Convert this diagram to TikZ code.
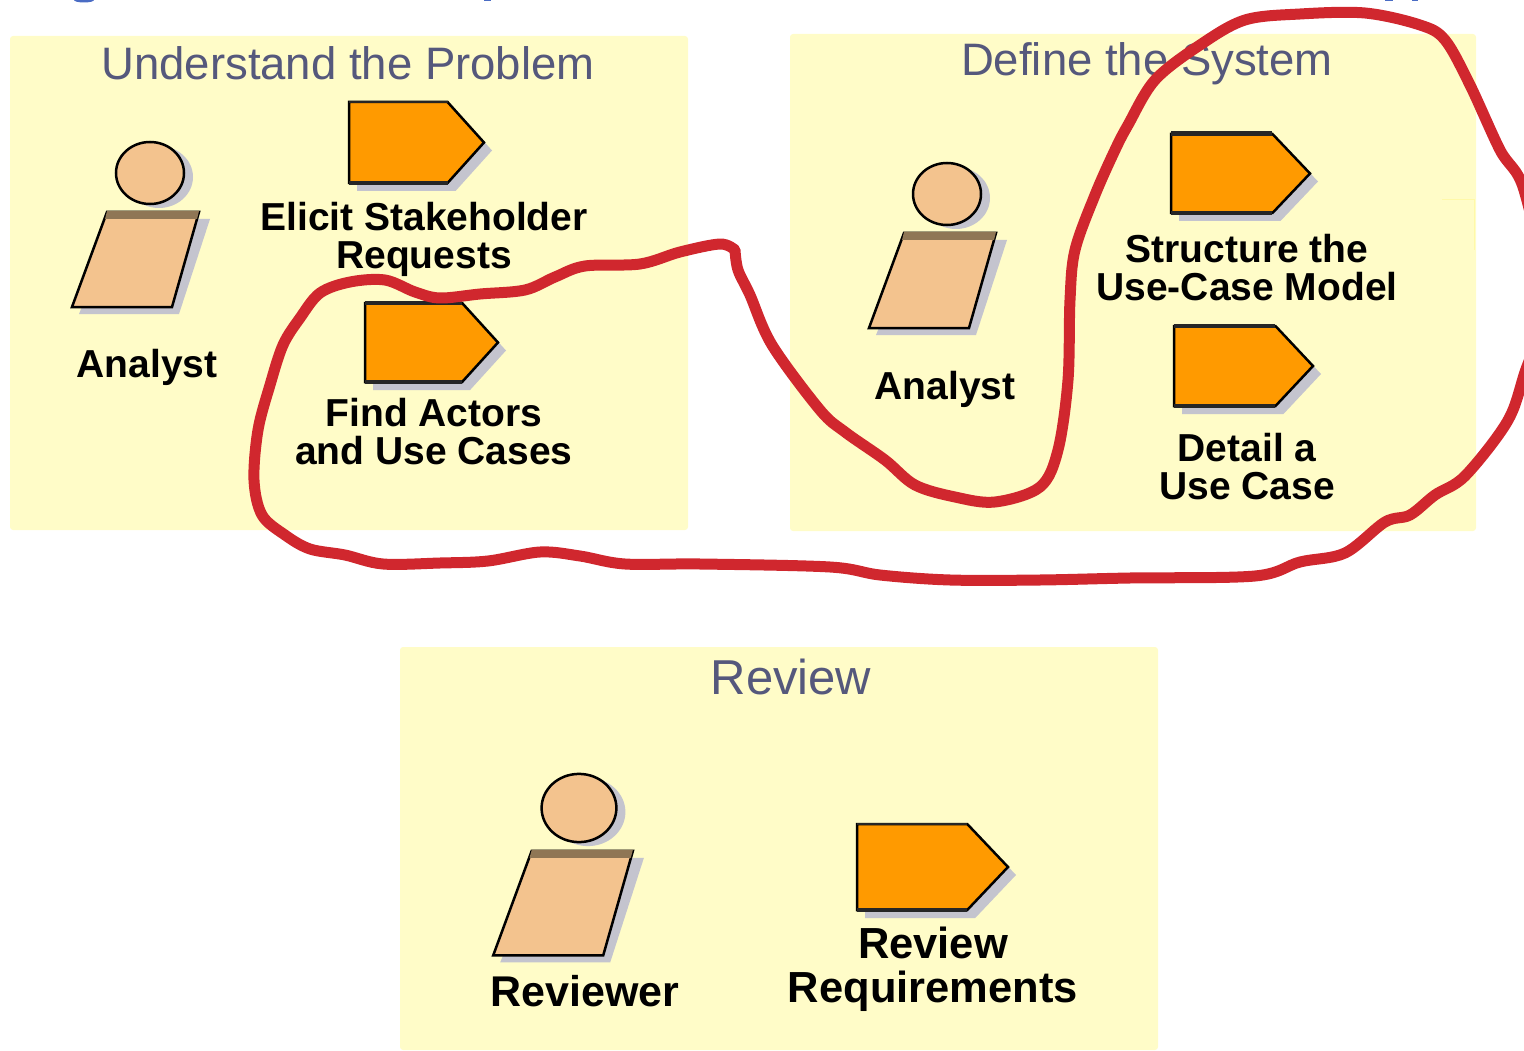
\documentclass[tikz,border=0pt]{standalone}
\usepackage{fontspec}
\setmainfont{Liberation Sans}
\definecolor{PANELcolor}{HTML}{FFFCC8}
\definecolor{EDGEcolor}{HTML}{FFF9A8}
\definecolor{TITLEcolor}{HTML}{55587C}
\definecolor{TASKcolor}{HTML}{FF9A00}
\definecolor{SKINcolor}{HTML}{F3C38E}
\definecolor{BANDcolor}{HTML}{8F7655}
\definecolor{SHADOWcolor}{HTML}{C4C4CE}
\definecolor{LOOPcolor}{HTML}{D0272E}
\definecolor{HEADcolor}{HTML}{4A6CC4}
\usetikzlibrary{math}

\begin{document}
\begin{tikzpicture}[x=1pt, y=-1pt]

    \tikzset{%
        panel/.style={fill=PANELcolor, rounded corners=3pt},
        titlelabel/.style={text=TITLEcolor, align=center, font=\fontsize{45.5}{46}\selectfont},
        rolelabel/.style={align=center, font=\fontsize{39}{38}\bfseries\selectfont},
        pics/taskshape/.style args={#1/#2/#3}{%
                code={%

                        \tikzmath{%
                            \taskw=#1;
                            \taskh=#2;
                            \shoulder=0.73*\taskw;
                            \shadow=8;
                        };

                        \fill [SHADOWcolor] (\shadow, \shadow) -- ++(\shoulder, 0) -- ++({\taskw-\shoulder}, {\taskh/2}) -- ++({\shoulder-\taskw}, {\taskh/2}) -- ++(-\shoulder, 0) -- cycle;
                        \fill [SHADOWcolor] (\shadow, \taskh-2) rectangle (\shoulder+\shadow, \taskh+\shadow);
                        \filldraw [fill=TASKcolor, draw=black, line width=2.5pt, line join=miter] (0, 0) -- (\shoulder, 0) -- (\taskw, \taskh/2) -- (\shoulder, \taskh) -- (0, \taskh) -- cycle;
                        \draw [black!85, line width=#3pt] (0, 0) -- (\shoulder, 0);
                        \draw [black!85, line width=3.5pt] (0, \taskh) -- (\shoulder, \taskh);
                    }
            },
        pics/workershape/.style={%
                code={%

                        \tikzmath{%
                            \sc=#1;
                            \shadow=7;
                            \headx=34*\sc;
                            \heady=31*\sc;
                            \bodytop=39*\sc;
                            \bodybot=134*\sc;
                        };

                        \fill [SHADOWcolor] (\shadow+2, 0+\shadow-3) ellipse ({\headx} and {\heady});
                        \fill [SHADOWcolor] ({-43*\sc+\shadow+4}, \bodytop+\shadow) -- ({49*\sc+\shadow+4}, \bodytop+\shadow) -- ({22*\sc+\shadow}, \bodybot+\shadow) -- ({-78*\sc+\shadow}, \bodybot+\shadow) -- cycle;
                        \filldraw [fill=SKINcolor, draw=black, line width=2.5pt] (0, 0) ellipse ({\headx} and {\heady});
                        \filldraw [fill=SKINcolor, draw=black, line width=2.5pt] ({-43*\sc}, \bodytop) -- ({49*\sc}, \bodytop) -- ({22*\sc}, \bodybot) -- ({-78*\sc}, \bodybot) -- cycle;
                        \fill [BANDcolor] ({-43*\sc}, \bodytop-1) -- ({49*\sc}, \bodytop-1) -- ({47*\sc}, \bodytop+7) -- ({-45*\sc}, \bodytop+7) -- cycle;
                    }
            }
    }

    \useasboundingbox (0, 0) rectangle (1524, 1051);
    \clip (0, 0) rectangle (1524, 1051);

    % panels
    \fill [panel] (10, 36) rectangle (688, 530);
    \fill [panel] (790, 34) rectangle (1476, 531);
    \fill [panel] (400, 647) rectangle (1158, 1050);
    \draw [EDGEcolor, line width=1pt] (1442, 200) -- (1474, 200) -- (1474, 250);

    % cut-off heading above the panels
    \fill [HEADcolor] (84, 0) ellipse (10 and 2.5);
    \fill [HEADcolor] (484, 0) rectangle (491, 1.5);
    \fill [HEADcolor] (1385, 0) rectangle (1393, 1.5);
    \fill [HEADcolor] (1412, 0) rectangle (1418, 1.5);

    % workers and tasks
    \pic at (150, 173) {workershape=1};
    \pic at (947, 194) {workershape=1};
    \pic at (579, 808) {workershape=1.1};
    \pic at (349, 102) {taskshape=135/81/2.5};
    \pic at (365, 303) {taskshape=133/79/4};
    \pic at (1171, 134) {taskshape=139/79/5};
    \pic at (1174, 326) {taskshape=139/80/4};
    \pic at (857, 824) {taskshape=151/86/2.5};

    % titles
    \node [titlelabel] (problem) at (348, 63) {Understand the Problem};
    \node [titlelabel] (system) at (1147, 64) {Define the System};
    \node [titlelabel, font=\fontsize{49}{50}\selectfont] (review) at (791, 677) {Review};

    % labels
    \node [rolelabel] (analysta) at (147, 367) {Analyst};
    \node [rolelabel] (analystb) at (945, 389) {Analyst};
    \node [rolelabel, font=\fontsize{43}{44}\bfseries\selectfont] (reviewer) at (585, 991) {Reviewer};
    \node [rolelabel] (elicit) at (424, 239) {Elicit Stakeholder\\Requests};
    \node [rolelabel] (actors) at (434, 432) {Find Actors\\and Use Cases};
    \node [rolelabel] (structure) at (1247, 268) {Structure the\\Use-Case Model};
    \node [rolelabel] (detail) at (1247, 467) {Detail a\\Use Case};
    \node [rolelabel, font=\fontsize{43.5}{44}\bfseries\selectfont] (requirements) at (933, 969) {Review\\Requirements};

    % hand-drawn loop on top
    \draw [LOOPcolor, line width=11pt, line cap=round, line join=round] plot [smooth, tension=0.55] coordinates {
            (735, 250) (720, 244) (680, 252) (640, 264) (585, 266) (555, 277) (525, 290) (480, 294)
            (440, 298) (415, 292) (385, 280) (350, 282) (320, 293) (300, 318) (283, 345) (270, 385)
            (258, 430) (254, 480) (262, 515) (285, 535) (310, 549) (345, 555) (383, 564) (440, 563)
            (488, 561) (540, 552) (580, 556) (625, 564) (700, 564) (830, 567) (880, 575) (950, 580)
            (1040, 580) (1130, 578) (1255, 576) (1300, 562) (1345, 553) (1385, 522) (1410, 515)
            (1435, 495) (1465, 476) (1507, 422) (1524, 375) (1545, 300) (1524, 190) (1500, 150)
            (1470, 85) (1445, 40) (1420, 25) (1365, 13) (1300, 14) (1245, 20) (1200, 45) (1155, 80)
            (1128, 125) (1115, 150) (1095, 195) (1075, 250) (1070, 300) (1068, 380) (1058, 450)
            (1040, 487) (995, 502) (955, 497) (915, 485) (885, 460) (845, 432) (820, 410) (772, 345)
            (750, 295) (738, 270) (735, 250)
        };

\end{tikzpicture}
\end{document}
